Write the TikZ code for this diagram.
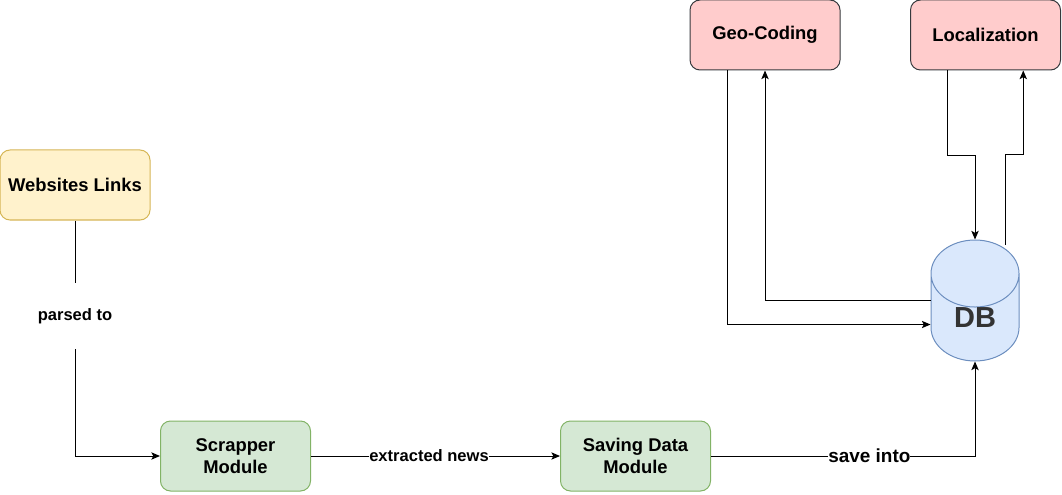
\documentclass[tikz,border=0pt]{standalone}
\usepackage{fontspec}
\setmainfont{Liberation Sans}
\usetikzlibrary{positioning,shapes.geometric,arrows.meta,calc}

\definecolor{linkfill}{HTML}{FFF2CC}
\definecolor{linkdraw}{HTML}{D6B656}
\definecolor{modfill}{HTML}{D5E8D4}
\definecolor{moddraw}{HTML}{82B366}
\definecolor{geofill}{HTML}{FFCCCC}
\definecolor{geodraw}{HTML}{36393D}
\definecolor{dbfill}{HTML}{DAE8FC}
\definecolor{dbdraw}{HTML}{6C8EBF}

\tikzset{
  box/.style={draw, rounded corners=7.5pt, line width=0.75pt, minimum width=112.5pt,
    minimum height=52.5pt, align=center, font=\fontsize{13.8}{16}\selectfont\bfseries},
  linkbox/.style={box, fill=linkfill, draw=linkdraw},
  modbox/.style={box, fill=modfill, draw=moddraw},
  geobox/.style={box, fill=geofill, draw=geodraw},
  lbl/.style={fill=white, inner sep=0pt, font=\fontsize{12.4}{14}\selectfont\bfseries},
  flow/.style={->, line width=0.75pt}
}

\begin{document}
\begin{tikzpicture}[x=0.75pt,y=-0.75pt,>={Stealth[length=6.5pt,width=5.5pt,inset=1.5pt]}]
  \useasboundingbox (0,0) rectangle (1062,495);
  \node[linkbox] (links) at (75,185) {Websites Links};
  \node[modbox] (scrap) at (235.5,456) {Scrapper\\Module};
  \node[modbox] (save) at (635.5,456) {Saving Data\\Module};
  \node[geobox] (geo) at (765,35) {Geo-Coding};
  \node[geobox] (loc) at (985.5,35) {Localization};
  \node[cylinder, shape border rotate=90, aspect=1.6, draw=dbdraw, fill=dbfill, line width=0.75pt,
    minimum width=66pt, minimum height=90.75pt, inner sep=0pt, text=black!80, anchor=shape center,
    font=\fontsize{21.75}{24}\selectfont\bfseries] (db) at (975,300.5) {DB};

  % main flow
  \draw[flow] (links) |- node[lbl, pos=0.203, minimum height=49.5pt] {parsed to} (scrap);
  \draw[flow] (scrap) -- node[lbl, pos=0.474] {extracted news} (save);
  \draw[flow] (save) -| node[lbl, pos=0.30, font=\fontsize{14.2}{16}\selectfont\bfseries] {save into} (db);

  % db and the two services
  \draw[flow] ($(geo.south west)!0.25!(geo.south east)$) |- ($(db.west |- db.shape center)+(0,24)$);
  \draw[flow] (db.west |- db.shape center) -| (geo.south);
  \draw[flow] ($(loc.south west)!0.25!(loc.south east)$) -- ++(0,85) -| (db.north);
  \draw[flow] ([xshift=22.5pt,yshift=-4.2pt]db.north) -- ++(0,-91) -| ($(loc.south west)!0.75!(loc.south east)$);
\end{tikzpicture}
\end{document}
